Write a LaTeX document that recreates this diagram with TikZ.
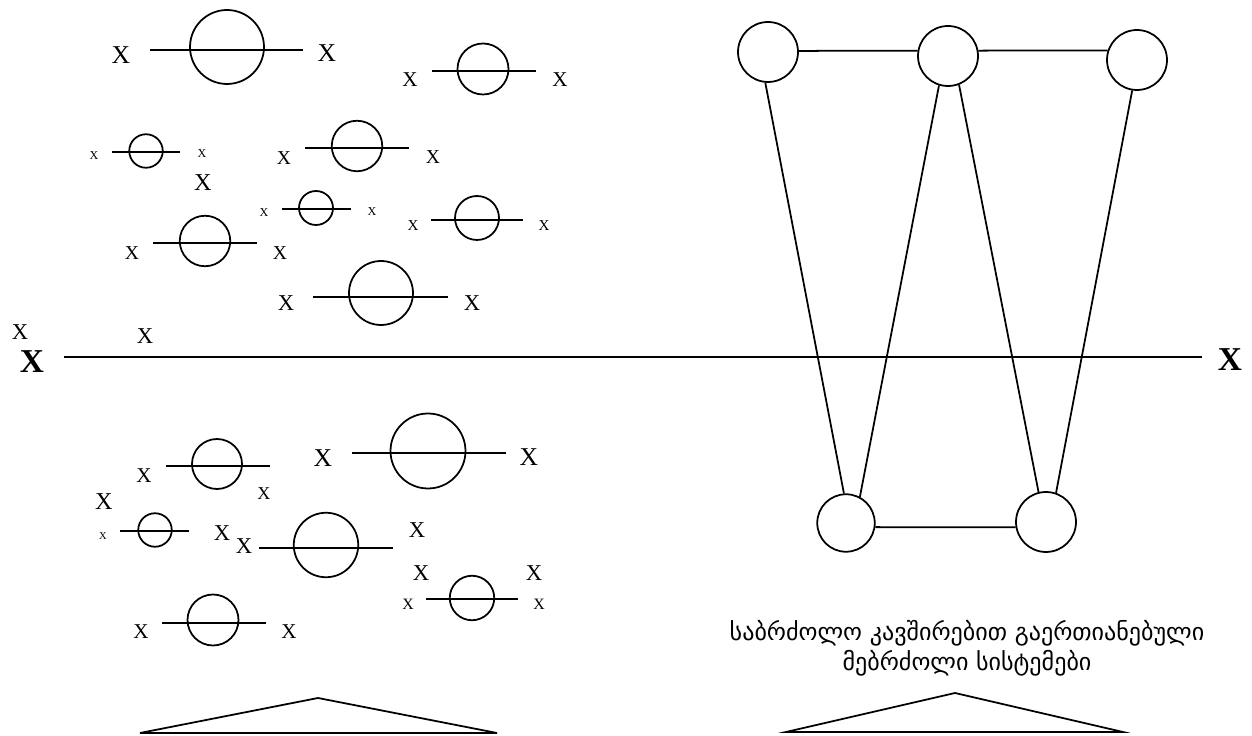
\documentclass[tikz,border=0pt]{standalone}
\usepackage{fontspec}
\setmainfont{Liberation Serif}
\newfontfamily\geofont{DejaVu Sans}
\tikzset{
  xs/.style={inner sep=0pt,font=\fontsize{#1}{#1}\selectfont},
  xbold/.style={inner sep=0pt,font=\fontsize{#1}{#1}\selectfont\bfseries},
  bubble/.style={circle,draw,inner sep=0pt,minimum size=#1},
  vertex/.style={circle,draw,inner sep=0pt,minimum size=1.2cm}
}
\begin{document}
\begin{tikzpicture}[x=0.02cm,y=-0.02cm,line width=1pt]
\useasboundingbox (0,0) rectangle (1252,736);
% upper bubbles
\coordinate (t1a) at (150,50); \coordinate (t1b) at (303,50);
\draw (t1a) -- (t1b);
\node[bubble=1.48cm] (t1) at (227,47) {};
\node[xs=14.6] (t1l) at (121,55) {X};
\node[xs=14.6] (t1r) at (327,53) {X};
\coordinate (t2a) at (432,71); \coordinate (t2b) at (536,71);
\draw (t2a) -- (t2b);
\node[bubble=1.02cm] (t2) at (483,69) {};
\node[xs=12] (t2l) at (410,80) {X};
\node[xs=12] (t2r) at (560,80) {X};
\coordinate (t3a) at (112,152); \coordinate (t3b) at (180,152);
\draw (t3a) -- (t3b);
\node[bubble=0.67cm] (t3) at (146,151) {};
\node[xs=6.9] (t3l) at (94,156) {X};
\node[xs=6.9] (t3r) at (202,154) {X};
\node[xs=13.8] (t3x) at (203,183) {X};
\coordinate (t4a) at (305,148); \coordinate (t4b) at (409,148);
\draw (t4a) -- (t4b);
\node[bubble=1.01cm] (t4) at (357,146) {};
\node[xs=11.2] (t4l) at (284,158) {X};
\node[xs=11.2] (t4r) at (433,157) {X};
\coordinate (t5a) at (282,209); \coordinate (t5b) at (351,209);
\draw (t5a) -- (t5b);
\node[bubble=0.68cm] (t5) at (316,208) {};
\node[xs=6.9] (t5l) at (264,213) {X};
\node[xs=6.9] (t5r) at (372,212) {X};
\coordinate (t6a) at (431,220); \coordinate (t6b) at (523,220);
\draw (t6a) -- (t6b);
\node[bubble=0.88cm] (t6) at (477,218) {};
\node[xs=8.6] (t6l) at (413,226) {X};
\node[xs=8.6] (t6r) at (544,226) {X};
\coordinate (t7a) at (153,243); \coordinate (t7b) at (257,243);
\draw (t7a) -- (t7b);
\node[bubble=1.01cm] (t7) at (205,241) {};
\node[xs=11.2] (t7l) at (132,253) {X};
\node[xs=11.2] (t7r) at (280,253) {X};
\coordinate (t8a) at (313,297); \coordinate (t8b) at (448,297);
\draw (t8a) -- (t8b);
\node[bubble=1.28cm] (t8) at (381,293) {};
\node[xs=12.9] (t8l) at (286,303) {X};
\node[xs=12.9] (t8r) at (472,303) {X};
% axis
\node[xs=12.9] (ax1) at (20,332) {X};
\node[xs=12.9] (ax2) at (145,336) {X};
\node[xbold=19] (axlx) at (32,362) {X};
\node[xbold=19] (axrx) at (1230,360) {X};
\coordinate (axL) at (64,357); \coordinate (axR) at (1202,357);
\draw (axL) -- (axR);
% lower bubbles
\coordinate (b1a) at (166,466); \coordinate (b1b) at (270,466);
\draw (b1a) -- (b1b);
\node[bubble=1.0cm] (b1) at (217,464) {};
\node[xs=12] (b1l) at (144,476) {X};
\node[xs=10.3] (b1r) at (264,494) {X};
\coordinate (b2a) at (352,453); \coordinate (b2b) at (506,453);
\draw (b2a) -- (b2b);
\node[bubble=1.5cm] (b2) at (428,451) {};
\node[xs=14.6] (b2l) at (323,458) {X};
\node[xs=14.6] (b2r) at (529,457) {X};
\node[xs=13.8] (b3x) at (104,502) {X};
\coordinate (b3a) at (120,531); \coordinate (b3b) at (189,531);
\draw (b3a) -- (b3b);
\node[bubble=0.67cm] (b3) at (155,530) {};
\node[xs=6] (b3l) at (103,536) {X};
\node[xs=12.9] (b3r) at (222,533) {X};
\coordinate (b4a) at (259,548); \coordinate (b4b) at (393,548);
\draw (b4a) -- (b4b);
\node[bubble=1.29cm] (b4) at (326,545) {};
\node[xs=12.9] (b4l) at (244,546) {X};
\node[xs=12.9] (b4r) at (417,530) {X};
\node[xs=12.9] (b5u) at (421,573) {X};
\node[xs=12.9] (b5v) at (534,573) {X};
\coordinate (b5a) at (426,599); \coordinate (b5b) at (518,599);
\draw (b5a) -- (b5b);
\node[bubble=0.89cm] (b5) at (472,598) {};
\node[xs=9] (b5l) at (408,604) {X};
\node[xs=9] (b5r) at (539,604) {X};
\coordinate (b6a) at (162,623); \coordinate (b6b) at (266,623);
\draw (b6a) -- (b6b);
\node[bubble=1.02cm] (b6) at (213,620) {};
\node[xs=12] (b6l) at (141,632) {X};
\node[xs=12] (b6r) at (289,632) {X};
% connected systems
\node[vertex] (A) at (768,52) {};
\node[vertex] (B) at (948,56) {};
\node[vertex] (C) at (1137,60) {};
\node[vertex,minimum size=1.15cm] (D) at (846,523) {};
\node[vertex] (E) at (1046,522) {};
\draw (A.2) -- (B.170);
\draw (B.10) -- (C.162);
\draw (D.-8) -- (E.190);
\draw (A.-95) -- (D.94);
\draw (D.62) -- (B.-107);
\draw (B.-69) -- (E.104);
\draw (E.71) -- (C.-99);
\node[inner sep=0pt,align=center,font=\geofont\fontsize{13.7}{17}\selectfont] (cap) at (967,648)
  {საბრძოლო კავშირებით გაერთიანებული\\მებრძოლი სისტემები};
% triangles
\coordinate (l1) at (140,733); \coordinate (l2) at (318,698); \coordinate (l3) at (497,733);
\draw (l1) -- (l2) -- (l3) -- cycle;
\coordinate (r1) at (786,732); \coordinate (r2) at (955,693); \coordinate (r3) at (1123,732);
\draw (r1) -- (r2) -- (r3) -- cycle;
\end{tikzpicture}
\end{document}
